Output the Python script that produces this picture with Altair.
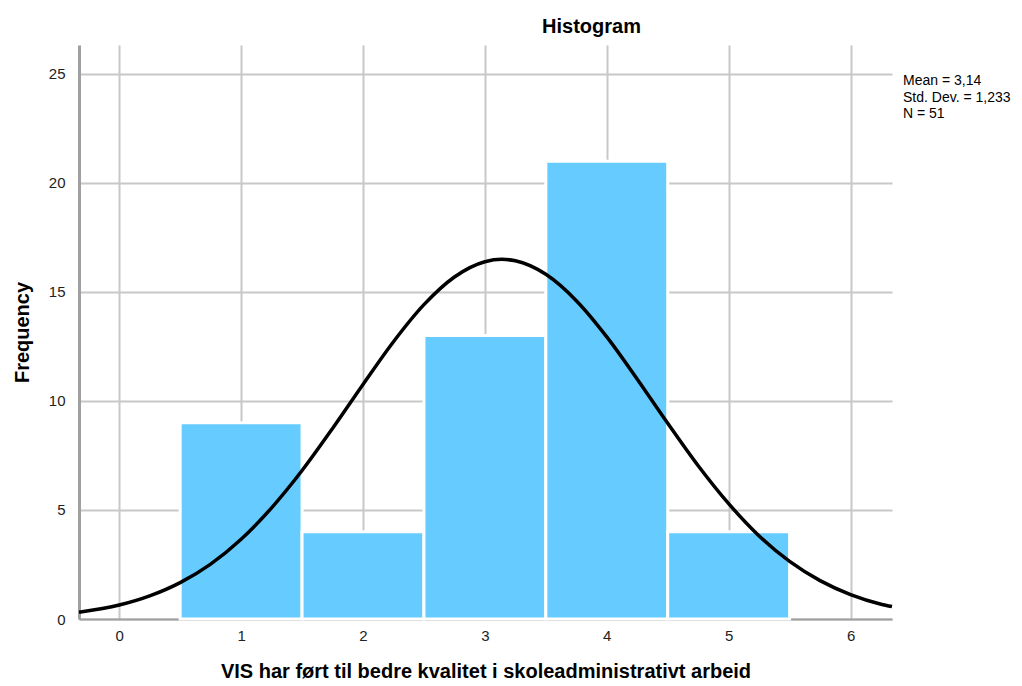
import altair as alt
import pandas as pd

# Histogram bins (category value) and frequencies
bin_centers = [1, 2, 3, 4, 5]
frequencies = [9, 4, 13, 21, 4]

# Normal curve
curve_x = [-0.33, 0, 0.25, 0.5, 0.75, 1, 1.25, 1.5, 1.75, 2, 2.25, 2.5, 2.75, 3, 3.14,
           3.25, 3.5, 3.75, 4, 4.25, 4.5, 4.75, 5, 5.25, 5.5, 5.75, 6, 6.25, 6.34]
curve_y = [0.31, 0.64, 1.06, 1.67, 2.52, 3.66, 5.10, 6.81, 8.74, 10.76, 12.72, 14.42, 15.69, 16.39, 16.5,
           16.43, 15.81, 14.60, 12.94, 11.00, 8.98, 7.03, 5.29, 3.81, 2.64, 1.76, 1.12, 0.68, 0.57]

stats_lines = ["Mean = 3,14", "Std. Dev. = 1,233", "N = 51"]

x_ticks = [0, 1, 2, 3, 4, 5, 6]
y_ticks = [0, 5, 10, 15, 20, 25]

FONT = "Liberation Sans"

bars_df = pd.DataFrame({
    "x0": [c - 0.5 for c in bin_centers],
    "x1": [c + 0.5 for c in bin_centers],
    "freq": frequencies,
})
curve_df = pd.DataFrame({"x": curve_x, "y": curve_y})
stats_df = pd.DataFrame({"t": ["\n".join(stats_lines)]})

xscale = alt.Scale(domain=[-0.33, 6.34], nice=False, zero=False)
yscale = alt.Scale(domain=[0, 26.33], nice=False)

xaxis = alt.Axis(values=x_ticks, format="d", title="VIS har ført til bedre kvalitet i skoleadministrativt arbeid",
                 grid=True, gridColor="#c8c8c8", gridWidth=2, ticks=False,
                 domainColor="#a0a0a0", domainWidth=2, labelFontSize=15, labelPadding=9,
                 labelColor="#222222", titleFontSize=20, titleFontWeight="bold",
                 titlePadding=18, titleColor="#000000", labelFont=FONT, titleFont=FONT)
yaxis = alt.Axis(values=y_ticks, format="d", title="Frequency",
                 grid=True, gridColor="#c8c8c8", gridWidth=2, ticks=False,
                 domainColor="#a0a0a0", domainWidth=3, labelFontSize=15, labelPadding=14,
                 labelColor="#222222", titleFontSize=20, titleFontWeight="bold",
                 titlePadding=16, titleColor="#000000", labelFont=FONT, titleFont=FONT)

bars = alt.Chart(bars_df).mark_rect(color="#66ccff", stroke="white", strokeWidth=3).encode(
    x=alt.X("x0:Q", scale=xscale, axis=xaxis),
    x2="x1:Q",
    y=alt.Y("freq:Q", scale=yscale, axis=yaxis),
    y2=alt.datum(0),
)

curve = alt.Chart(curve_df).mark_line(color="black", strokeWidth=3.5, interpolate="monotone").encode(
    x=alt.X("x:Q", scale=xscale),
    y=alt.Y("y:Q", scale=yscale),
)

stats = alt.Chart(stats_df).mark_text(align="left", baseline="top", fontSize=14, font=FONT,
                                      color="#000000", lineBreak="\n", lineHeight=16.5).encode(
    x=alt.value(824),
    y=alt.value(29),
    text="t:N",
)

chart = alt.layer(bars, curve, stats).properties(
    width=813,
    height=574,
    autosize=alt.AutoSizeParams(type="none"),
    padding={"left": 71, "top": 37, "right": 122, "bottom": 66},
    title=alt.TitleParams("Histogram", fontSize=20, fontWeight="bold", font=FONT,
                          anchor="middle", dx=106, offset=8, color="#000000"),
).configure_view(stroke=None)

chart.save("out.html", embed_options={"renderer": "svg", "actions": False})
